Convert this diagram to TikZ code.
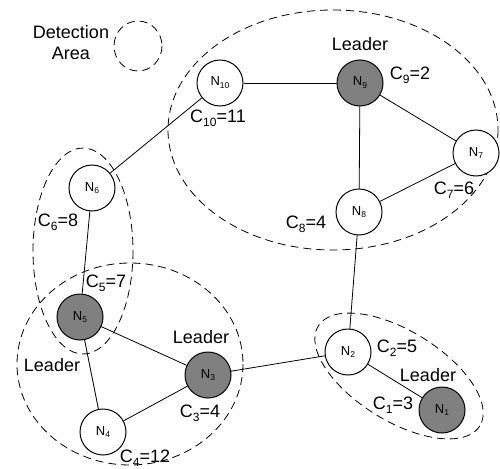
\documentclass[tikz,border=0pt]{standalone}
\usepackage{fontspec}
\setmainfont{Liberation Sans}
\definecolor{leadgray}{RGB}{128,128,128}
\newcommand{\nsub}[2]{#1\raisebox{-0.22em}{\fontsize{8.5}{9}\selectfont #2}}
\newcommand{\csub}[2]{#1\raisebox{-0.22em}{\fontsize{12}{13}\selectfont #2}}
\begin{document}
\begin{tikzpicture}[x=1pt,y=-1pt,
  nd/.style={circle,draw=black,line width=1pt,fill=white,minimum size=46pt,inner sep=0pt,font=\fontsize{13}{14}\selectfont},
  ld/.style={nd,fill=leadgray},
  lbl/.style={inner sep=0pt,font=\fontsize{18}{20}\selectfont},
  area/.style={draw=black,dashed,dash pattern=on 8pt off 5pt,line width=0.8pt},
  edge/.style={draw=black,line width=0.8pt}]
\useasboundingbox (0,0) rectangle (500,468);
% detection areas
\draw[area] (138,46) ellipse [x radius=24, y radius=25];
\draw[area] (333,130) ellipse [x radius=165, y radius=120];
\draw[area] (83,251) ellipse [x radius=50, y radius=103];
\draw[area] (130,364) ellipse [x radius=113, y radius=101];
\draw[area] (399,376) ellipse [x radius=95, y radius=45, rotate=-31.7];
% nodes
\node[nd] (n10) at (220,83) {\nsub{N}{10}};
\node[ld] (n9) at (360,83) {\nsub{N}{9}};
\node[nd] (n7) at (476,153) {\nsub{N}{7}};
\node[nd] (n8) at (359,212) {\nsub{N}{8}};
\node[nd] (n6) at (92,188) {\nsub{N}{6}};
\node[ld] (n5) at (80,317) {\nsub{N}{5}};
\node[ld] (n3) at (208,375) {\nsub{N}{3}};
\node[nd] (n4) at (103,432) {\nsub{N}{4}};
\node[nd] (n2) at (348,352) {\nsub{N}{2}};
\node[ld] (n1) at (442,410) {\nsub{N}{1}};
% edges
\draw[edge] (n10) -- (n9);
\draw[edge] (n9) -- (n7);
\draw[edge] (n9) -- (n8);
\draw[edge] (n8) -- (n7);
\draw[edge] (n8) -- (n2);
\draw[edge] (n10) -- (n6);
\draw[edge] (n6) -- (n5);
\draw[edge] (n5) -- (n3);
\draw[edge] (n5) -- (n4);
\draw[edge] (n4) -- (n3);
\draw[edge] (n3) -- (n2);
\draw[edge] (n2) -- (n1);
% labels
\node[lbl,align=center] (da) at (71,43) {Detection\\[1pt]Area};
\node[lbl] (l9) at (360,44) {Leader};
\node[lbl] (c9) at (410,75) {\csub{C}{9}=2};
\node[lbl] (c10) at (218,118) {\csub{C}{10}=11};
\node[lbl] (c7) at (454,190) {\csub{C}{7}=6};
\node[lbl] (c8) at (306,224) {\csub{C}{8}=4};
\node[lbl] (c6) at (58,222) {\csub{C}{6}=8};
\node[lbl] (c5) at (106,283) {\csub{C}{5}=7};
\node[lbl] (l5) at (52,365) {Leader};
\node[lbl] (l3) at (201,337) {Leader};
\node[lbl] (c3) at (200,413) {\csub{C}{3}=4};
\node[lbl] (c4) at (145,458) {\csub{C}{4}=12};
\node[lbl] (c2) at (397,348) {\csub{C}{2}=5};
\node[lbl] (l1) at (428,375) {Leader};
\node[lbl] (c1) at (393,405) {\csub{C}{1}=3};
\end{tikzpicture}
\end{document}
